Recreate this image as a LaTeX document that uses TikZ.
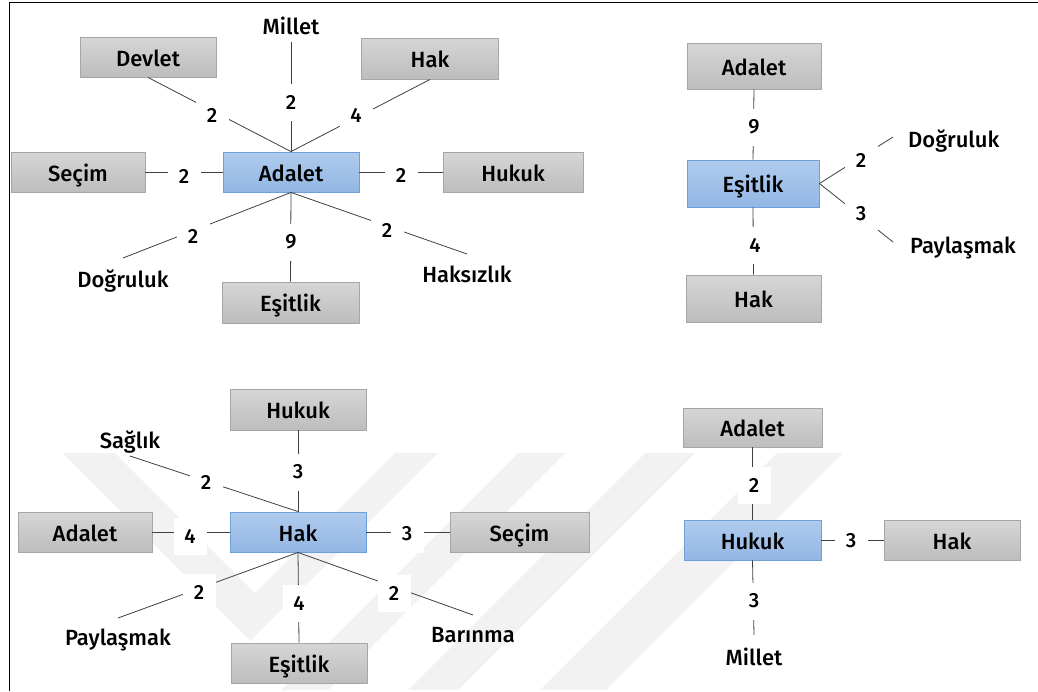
\documentclass[tikz,border=0pt]{standalone}
\usepackage{fontspec}
\setmainfont{Fira Sans}[UprightFont=* Medium]
\definecolor{boxtop}{HTML}{D6D6D6}
\definecolor{boxbot}{HTML}{BDBDBD}
\definecolor{boxedge}{HTML}{A6A6A6}
\definecolor{hubtop}{HTML}{B0CCEE}
\definecolor{hubbot}{HTML}{93B6E4}
\definecolor{hubedge}{HTML}{6F9FDA}
\definecolor{linkgray}{HTML}{404040}
\definecolor{wmgray}{HTML}{F2F2F2}
\begin{document}
\begin{tikzpicture}[x=1pt,y=-1pt,
  box/.style={rectangle, draw=boxedge, line width=0.9pt, top color=boxtop, bottom color=boxbot,
    minimum width=136pt, minimum height=40pt, inner sep=0pt, text height=21pt, text depth=3pt,
    font=\fontsize{22}{26}\selectfont},
  hub/.style={box, draw=hubedge, top color=hubtop, bottom color=hubbot},
  term/.style={inner sep=0pt, text height=21pt, text depth=3pt, font=\fontsize{22}{26}\selectfont},
  wt/.style={fill=white, inner sep=0pt, minimum width=33pt, minimum height=37pt,
    font=\fontsize{20.5}{24}\selectfont},
  link/.style={draw=linkgray, line width=0.8pt},
  wband/.style={fill=wmgray, draw=none}]
\useasboundingbox (0,0) rectangle (1038,691);

% faint background emblem
\fill[wband] (63,453) -- (115,453) -- (255,593) -- (395,453) -- (438,453) -- (250.5,640.5) -- cycle;
\fill[wband] (518,453) -- (565,453) -- (328,690) -- (281,690) -- cycle;
\fill[wband] (645,453) -- (695,453) -- (458,690) -- (408,690) -- cycle;
\fill[wband] (777,453) -- (843,453) -- (606,690) -- (540,690) -- cycle;

% frame
\draw[line width=1.7pt] (9.5,691) -- (9.5,2.5) -- (1038,2.5);

% ---------- Adalet network ----------
\node[hub] (ada1) at (291,172) {Adalet};
\node[box] (dev1) at (148,57) {Devlet};
\node[box, minimum width=137pt, minimum height=41pt] (hak1) at (430,58.5) {Hak};
\node[box, minimum width=134pt] (sec1) at (78,172) {Seçim};
\node[box, minimum width=140pt] (huk1) at (513,172) {Hukuk};
\node[box, minimum width=137pt, minimum height=41pt] (esi1) at (290.5,302.5) {Eşitlik};
\node[term] (mil1) at (291,25) {Millet};
\node[term] (dog1) at (123,278) {Doğruluk};
\node[term] (hks1) at (467,273) {Haksızlık};
\coordinate (mil1e) at (291,42);
\coordinate (dog1e) at (123,258);
\coordinate (hks1e) at (467,254);

\draw[link] (dev1.south) -- (ada1.north);
\draw[link] (mil1e) -- (ada1.north);
\draw[link] (hak1.south) -- (ada1.north);
\draw[link] (sec1.east) -- (ada1.west);
\draw[link] (ada1.east) -- (huk1.west);
\draw[link] (ada1.south) -- (dog1e);
\draw[link] (ada1.south) -- (esi1.north);
\draw[link] (ada1.south) -- (hks1e);

\node[wt] (w11) at (212,115) {2};
\node[wt] (w12) at (291,102) {2};
\node[wt] (w13) at (356,115) {4};
\node[wt] (w14) at (184,176) {2};
\node[wt] (w15) at (401,175) {2};
\node[wt] (w16) at (193,236) {2};
\node[wt] (w17) at (291,242) {9};
\node[wt] (w18) at (387,230) {2};

% ---------- Eşitlik network ----------
\node[hub, minimum width=132pt, minimum height=47pt] (esi2) at (753,183.5) {Eşitlik};
\node[box, minimum width=134pt, minimum height=46pt] (ada2) at (754,66) {Adalet};
\node[box, minimum width=135pt, minimum height=47pt] (hak2) at (753.5,298.5) {Hak};
\node[term, anchor=west] (dog2) at (908,138) {Doğruluk};
\node[term, anchor=west] (pay2) at (910,244) {Paylaşmak};
\coordinate (dog2e) at (893,137);
\coordinate (pay2e) at (893,242);

\draw[link] (ada2.south) -- (esi2.north);
\draw[link] (esi2.south) -- (hak2.north);
\draw[link] (esi2.east) -- (dog2e);
\draw[link] (esi2.east) -- (pay2e);

\node[wt] (w21) at (754,127) {9};
\node[wt] (w22) at (755,245) {4};
\node[wt] (w23) at (861,160) {2};
\node[wt] (w24) at (861,214) {3};

% ---------- Hak network ----------
\node[hub] (hak3) at (298,532) {Hak};
\node[box, minimum height=41pt] (huk3) at (298,409.5) {Hukuk};
\node[box, minimum width=134pt] (ada3) at (85,532) {Adalet};
\node[box, minimum width=139pt] (sec3) at (519.5,532) {Seçim};
\node[box] (esi3) at (299,663) {Eşitlik};
\node[term] (sag3) at (130,439) {Sağlık};
\node[term] (pay3) at (118,636) {Paylaşmak};
\node[term] (bar3) at (473,633) {Barınma};
\coordinate (sag3e) at (130,456);
\coordinate (pay3e) at (118,618);
\coordinate (bar3e) at (473,615);

\draw[link] (huk3.south) -- (hak3.north);
\draw[link] (sag3e) -- (hak3.north);
\draw[link] (ada3.east) -- (hak3.west);
\draw[link] (hak3.east) -- (sec3.west);
\draw[link] (hak3.south) -- (pay3e);
\draw[link] (hak3.south) -- (esi3.north);
\draw[link] (hak3.south) -- (bar3e);

\node[wt] (w31) at (298,472) {3};
\node[wt] (w32) at (206,482) {2};
\node[wt] (w33) at (190,536) {4};
\node[wt] (w34) at (407,534) {3};
\node[wt] (w35) at (199,592) {2};
\node[wt] (w36) at (299,603) {4};
\node[wt] (w37) at (394,593) {2};

% ---------- Hukuk network ----------
\node[hub, minimum width=137pt] (huk4) at (752.5,540) {Hukuk};
\node[box, minimum width=139pt, minimum height=39pt] (ada4) at (752.5,427.5) {Adalet};
\node[box] (hak4) at (952,540) {Hak};
\node[term] (mil4) at (754,656) {Millet};
\coordinate (mil4e) at (754,635);

\draw[link] (ada4.south) -- (huk4.north);
\draw[link] (huk4.east) -- (hak4.west);
\draw[link] (huk4.south) -- (mil4e);

\node[wt] (w41) at (754,485) {2};
\node[wt] (w42) at (851,541) {3};
\node[wt] (w43) at (754,601) {3};
\end{tikzpicture}
\end{document}
